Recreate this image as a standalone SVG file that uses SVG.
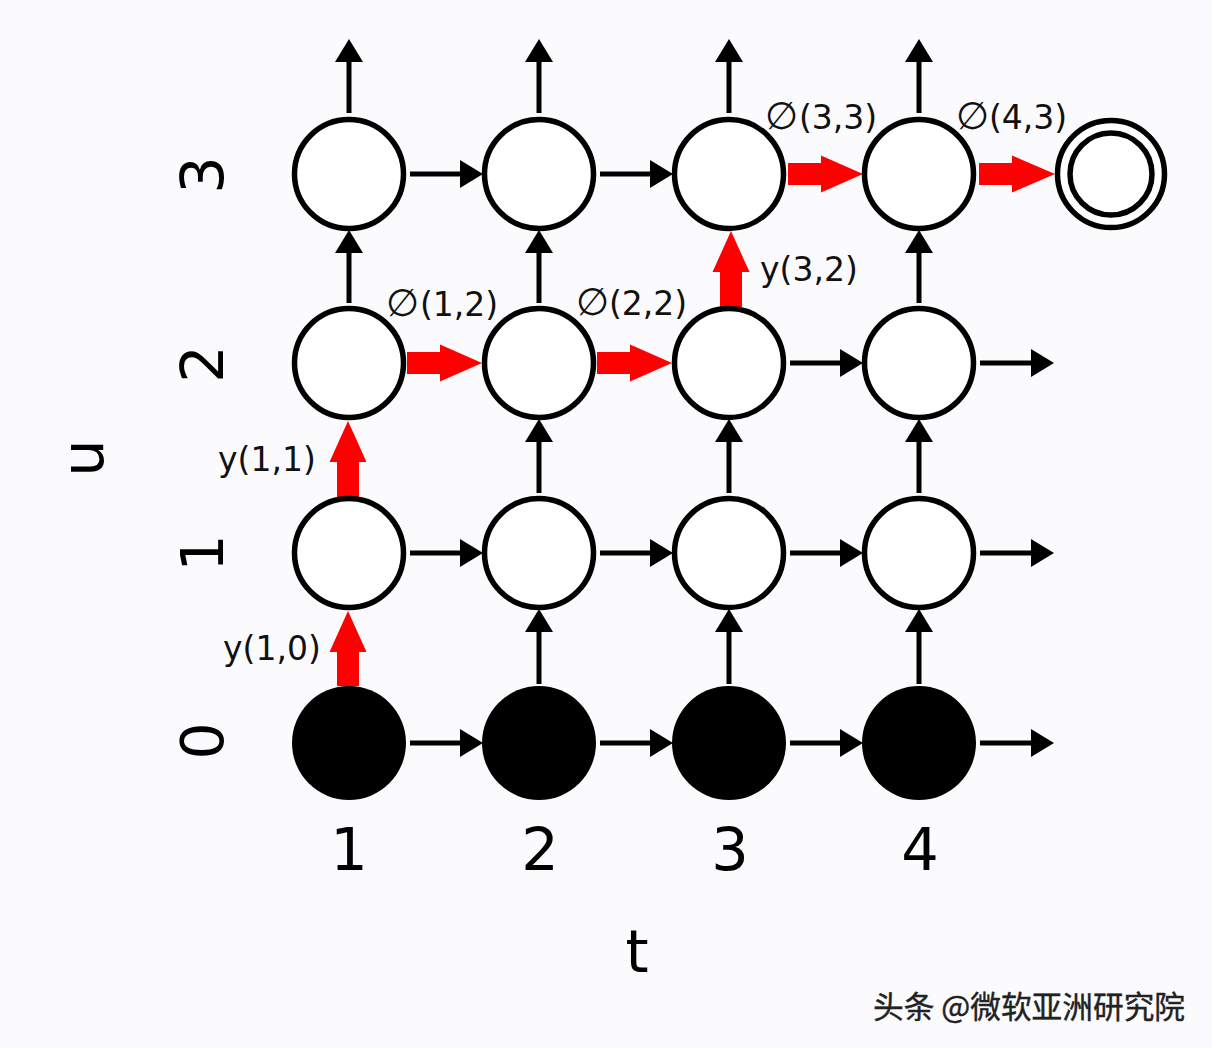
<svg xmlns="http://www.w3.org/2000/svg" width="1212" height="1048" viewBox="0 0 1212 1048">
<style>
.n{fill:#ffffff;stroke:#000;stroke-width:5.5}
.f{fill:#000;stroke:none}
.c{stroke:#000;stroke-width:5;fill:none;marker-end:url(#ah)}
.r{fill:#ff0000;stroke:none}
.lb{font-family:"DejaVu Sans",sans-serif;font-size:33px;fill:#111}
.es{font-size:38px}
.ax{font-family:"DejaVu Sans",sans-serif;font-size:59px;fill:#000}
.wm{font-family:"Noto Sans CJK SC",sans-serif;font-size:31px;fill:#222;stroke:#222;stroke-width:0.4}
</style>
<defs>
<marker id="ah" markerUnits="userSpaceOnUse" markerWidth="23" markerHeight="28" refX="0" refY="14" orient="auto" viewBox="0 0 23 28">
<path d="M0,0 L23,14 L0,28 z" fill="#000"/>
</marker>
</defs>
<rect x="0" y="0" width="1212" height="1048" fill="#fbfbfd"/>

<g id="connectors">
<!-- top outgoing arrows -->
<line class="c" x1="349" y1="113" x2="349" y2="62"/>
<line class="c" x1="539" y1="113" x2="539" y2="62"/>
<line class="c" x1="729" y1="113" x2="729" y2="62"/>
<line class="c" x1="919" y1="113" x2="919" y2="62"/>
<!-- row 3 horizontals -->
<line class="c" x1="410" y1="174" x2="460" y2="174"/>
<line class="c" x1="600" y1="174" x2="650" y2="174"/>
<!-- row 2 to row 3 verticals -->
<line class="c" x1="349" y1="303" x2="349" y2="253"/>
<line class="c" x1="539" y1="303" x2="539" y2="253"/>
<line class="c" x1="919" y1="303" x2="919" y2="253"/>
<!-- row 2 horizontals -->
<line class="c" x1="790" y1="363" x2="840" y2="363"/>
<line class="c" x1="980" y1="363" x2="1031" y2="363"/>
<!-- row 1 to row 2 verticals -->
<line class="c" x1="539" y1="493" x2="539" y2="442"/>
<line class="c" x1="729" y1="493" x2="729" y2="442"/>
<line class="c" x1="919" y1="493" x2="919" y2="442"/>
<!-- row 1 horizontals -->
<line class="c" x1="410" y1="553" x2="460" y2="553"/>
<line class="c" x1="600" y1="553" x2="650" y2="553"/>
<line class="c" x1="790" y1="553" x2="840" y2="553"/>
<line class="c" x1="980" y1="553" x2="1031" y2="553"/>
<!-- row 0 to row 1 verticals -->
<line class="c" x1="539" y1="684" x2="539" y2="632"/>
<line class="c" x1="729" y1="684" x2="729" y2="632"/>
<line class="c" x1="919" y1="684" x2="919" y2="632"/>
<!-- row 0 horizontals -->
<line class="c" x1="410" y1="743" x2="460" y2="743"/>
<line class="c" x1="600" y1="743" x2="650" y2="743"/>
<line class="c" x1="790" y1="743" x2="840" y2="743"/>
<line class="c" x1="980" y1="743" x2="1031" y2="743"/>
<!-- red path arrows -->
<path class="r" d="M337,686 L337,652 L329.5,652 L348,611 L366.5,652 L359,652 L359,686 z"/>
<path class="r" d="M337,497 L337,462 L329.5,462 L348,421 L366.5,462 L359,462 L359,497 z"/>
<path class="r" d="M407,352 L440,352 L440,344.5 L482,363 L440,381.5 L440,374 L407,374 z"/>
<path class="r" d="M597,352 L630,352 L630,344.5 L672,363 L630,381.5 L630,374 L597,374 z"/>
<path class="r" d="M720,307 L720,272 L712.5,272 L731,231 L749.5,272 L742,272 L742,307 z"/>
<path class="r" d="M788,163 L821,163 L821,155.5 L863,174 L821,192.5 L821,185 L788,185 z"/>
<path class="r" d="M979,163 L1012,163 L1012,155.5 L1055,174 L1012,192.5 L1012,185 L979,185 z"/>
</g>

<g id="node-t1-u3"><circle class="n" cx="349" cy="174" r="54.5"/></g>
<g id="node-t2-u3"><circle class="n" cx="539" cy="174" r="54.5"/></g>
<g id="node-t3-u3"><circle class="n" cx="729" cy="174" r="54.5"/></g>
<g id="node-t4-u3"><circle class="n" cx="919" cy="174" r="54.5"/></g>
<g id="node-final"><circle class="n" cx="1111" cy="174" r="53.5"/><circle class="n" cx="1111" cy="174" r="41"/></g>
<g id="node-t1-u2"><circle class="n" cx="349" cy="363" r="54.5"/></g>
<g id="node-t2-u2"><circle class="n" cx="539" cy="363" r="54.5"/></g>
<g id="node-t3-u2"><circle class="n" cx="729" cy="363" r="54.5"/></g>
<g id="node-t4-u2"><circle class="n" cx="919" cy="363" r="54.5"/></g>
<g id="node-t1-u1"><circle class="n" cx="349" cy="553" r="54.5"/></g>
<g id="node-t2-u1"><circle class="n" cx="539" cy="553" r="54.5"/></g>
<g id="node-t3-u1"><circle class="n" cx="729" cy="553" r="54.5"/></g>
<g id="node-t4-u1"><circle class="n" cx="919" cy="553" r="54.5"/></g>
<g id="node-t1-u0"><circle class="f" cx="349" cy="743" r="57"/></g>
<g id="node-t2-u0"><circle class="f" cx="539" cy="743" r="57"/></g>
<g id="node-t3-u0"><circle class="f" cx="729" cy="743" r="57"/></g>
<g id="node-t4-u0"><circle class="f" cx="919" cy="743" r="57"/></g>

<g id="edge-labels">
<text class="lb" x="223" y="660">y(1,0)</text>
<text class="lb" x="218" y="471">y(1,1)</text>
<text class="lb" x="760" y="281">y(3,2)</text>
<text class="lb" x="386" y="316"><tspan class="es">∅</tspan><tspan x="420">(1,2)</tspan></text>
<text class="lb" x="576" y="315"><tspan class="es">∅</tspan><tspan x="609">(2,2)</tspan></text>
<text class="lb" x="765" y="129"><tspan class="es">∅</tspan><tspan x="799">(3,3)</tspan></text>
<text class="lb" x="956" y="129"><tspan class="es">∅</tspan><tspan x="989">(4,3)</tspan></text>
</g>

<g id="axes">
<text class="ax" text-anchor="middle" transform="translate(223,175) rotate(-90)">3</text>
<text class="ax" text-anchor="middle" transform="translate(223,364) rotate(-90)">2</text>
<text class="ax" text-anchor="middle" transform="translate(223,553) rotate(-90)">1</text>
<text class="ax" text-anchor="middle" transform="translate(223,741) rotate(-90)">0</text>
<text class="ax" text-anchor="middle" transform="translate(103,458) rotate(-90)">u</text>
<text class="ax" text-anchor="middle" x="349" y="870">1</text>
<text class="ax" text-anchor="middle" x="540" y="870">2</text>
<text class="ax" text-anchor="middle" x="730" y="870">3</text>
<text class="ax" text-anchor="middle" x="920" y="870">4</text>
<text class="ax" text-anchor="middle" x="637" y="972">t</text>
</g>

<g id="watermark">
<text class="wm" x="873" y="1018" textLength="312" lengthAdjust="spacingAndGlyphs">头条 @微软亚洲研究院</text>
</g>
</svg>
